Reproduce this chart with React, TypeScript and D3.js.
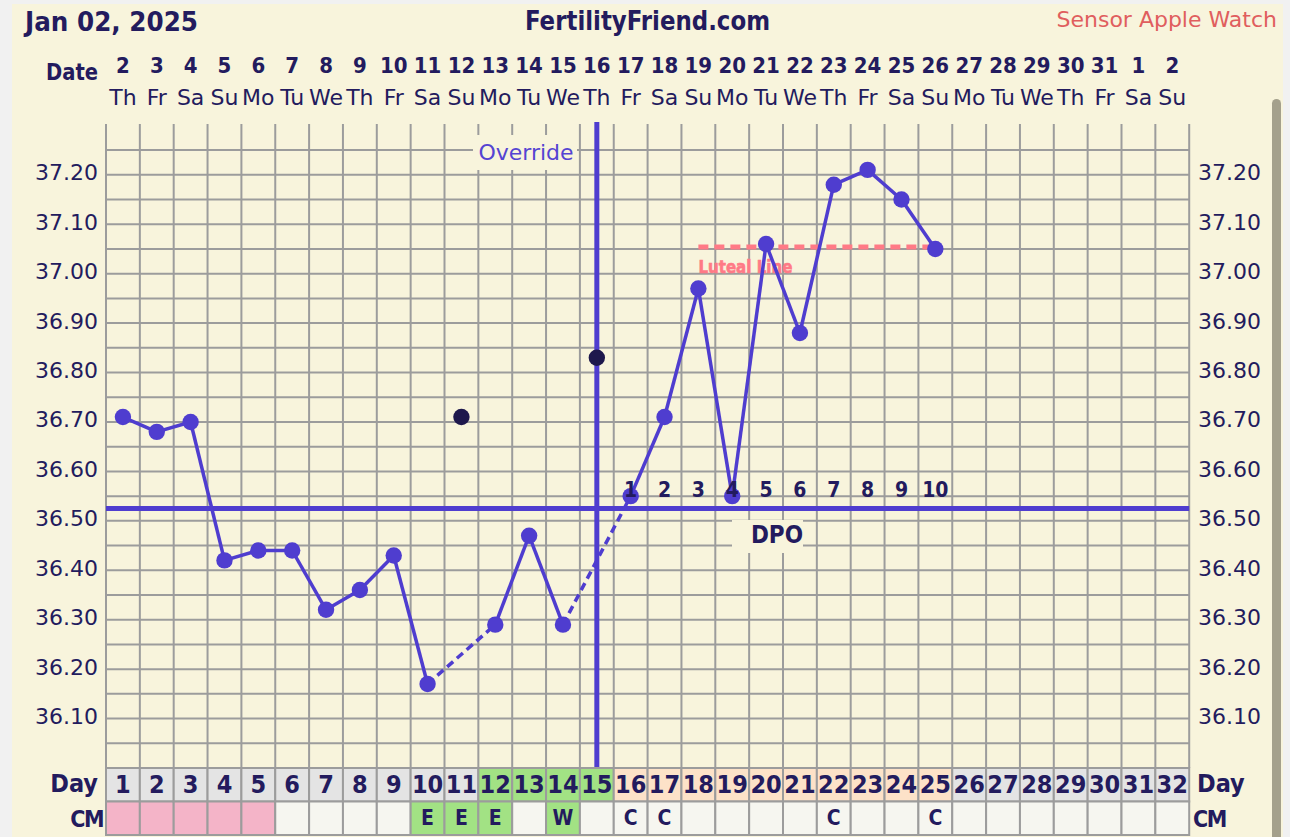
import React from 'react';
import * as d3 from 'd3';

// ---------- data ----------
const days = [1,2,3,4,5,6,7,8,9,10,11,12,13,14,15,16,17,18,19,20,21,22,23,24,25,26,27,28,29,30,31,32];
const dates = ['2','3','4','5','6','7','8','9','10','11','12','13','14','15','16','17','18','19','20','21','22','23','24','25','26','27','28','29','30','31','1','2'];
const weekdays = ['Th','Fr','Sa','Su','Mo','Tu','We','Th','Fr','Sa','Su','Mo','Tu','We','Th','Fr','Sa','Su','Mo','Tu','We','Th','Fr','Sa','Su','Mo','Tu','We','Th','Fr','Sa','Su'];
const temps = [36.71,36.68,36.70,36.42,36.44,36.44,36.32,36.36,36.43,36.17,36.71,36.29,36.47,36.29,36.83,36.55,36.71,36.97,36.55,37.06,36.88,37.18,37.21,37.15,37.05];
const discardedDays = [11, 15];
const coverline = 36.525;
const ovulationDay = 15;
const lutealValue = 37.05;
const lutealStartDay = 18;
const lutealEndDay = 25;
const dpoLabels = ['1','2','3','4','5','6','7','8','9','10'];
const dpoStartDay = 16;
const yTicks = [36.10,36.20,36.30,36.40,36.50,36.60,36.70,36.80,36.90,37.00,37.10,37.20];
const gridLevels = [36.05,36.10,36.15,36.20,36.25,36.30,36.35,36.40,36.45,36.50,36.55,36.60,36.65,36.70,36.75,36.80,36.85,36.90,36.95,37.00,37.05,37.10,37.15,37.20,37.25];
const dayPhase = ['n','n','n','n','n','n','n','n','n','n','n','f','f','f','f','l','l','l','l','l','l','l','l','l','l','n','n','n','n','n','n','n'];
const cmType = ['m','m','m','m','m','x','x','x','x','g','g','g','x','g','x','x','x','x','x','x','x','x','x','x','x','x','x','x','x','x','x','x'];
const cmText = ['','','','','','','','','','E','E','E','','W','','C','C','','','','','C','','','C','','','','','','',''];

// ---------- styles ----------
const CREAM = '#f8f4dc';
const NAVY = '#231b5e';
const LINE = '#4f3dcf';
const GRID = '#9c9c9c';
const FN = "'DejaVu Sans', Verdana, sans-serif";
const FB = "'DejaVu Sans Condensed', 'DejaVu Sans', sans-serif";
const phaseFill: Record<string, string> = { n: '#e4e4e4', f: '#a2e284', l: '#fde2c8' };
const cmFill: Record<string, string> = { m: '#f4b4c8', g: '#a2e284', x: '#f6f6f0' };

export default function App() {
  const x = d3.scaleBand<number>().domain(days).range([106, 1189.2]).padding(0);
  const bw = x.bandwidth();
  const cx = (d: number) => (x(d) as number) + bw / 2;
  const y = d3.scaleLinear().domain([36.0, 37.3]).range([768, 125.4]);

  const gridTop = 124;
  const gridBottom = y(36.0);
  const dayRowTop = gridBottom;
  const dayRowBottom = 801.5;
  const cmRowBottom = 835;

  const pts = temps.map((t, i) => ({ day: days[i], t, excluded: discardedDays.includes(days[i]) }));
  const kept = pts.filter(p => !p.excluded);
  const segs: { a: typeof kept[0]; b: typeof kept[0]; dashed: boolean }[] = [];
  for (let i = 1; i < kept.length; i++) {
    const a = kept[i - 1], b = kept[i];
    segs.push({ a, b, dashed: b.day - a.day > 1 });
  }
  const line = d3.line<{ day: number; t: number }>().x(p => cx(p.day)).y(p => y(p.t));

  return (
    <svg width={1290} height={837} style={{ position: 'absolute', left: 0, top: 0, display: 'block' }}>
      <rect x={0} y={0} width={1290} height={837} fill="#f1f1f1" />
      <rect x={12} y={4} width={1271} height={833} fill={CREAM} />
      <rect x={1272} y={99} width={9} height={745} rx={4.5} fill="#a4a08c" />

      {/* header */}
      <text x={25} y={31} fontFamily={FB} fontWeight="bold" fontSize={27} fill={NAVY} textLength={173} lengthAdjust="spacingAndGlyphs">Jan 02, 2025</text>
      <text x={525} y={30} fontFamily={FB} fontWeight="bold" fontSize={27} fill={NAVY} textLength={245} lengthAdjust="spacingAndGlyphs">FertilityFriend.com</text>
      <text x={1277} y={27} fontFamily={FN} fontSize={22} fill="#e05e5e" textAnchor="end">Sensor Apple Watch</text>

      <text x={98} y={80} fontFamily={FB} fontWeight="bold" fontSize={23} fill={NAVY} textAnchor="end" textLength={52} lengthAdjust="spacingAndGlyphs">Date</text>
      {days.map((d, i) => (
        <text key={'dt' + d} x={cx(d)} y={73} fontFamily={FB} fontWeight="bold" fontSize={22} fill={NAVY} textAnchor="middle">{dates[i]}</text>
      ))}
      {days.map((d, i) => (
        <text key={'wd' + d} x={cx(d)} y={105} fontFamily={FN} fontSize={22} fill={NAVY} textAnchor="middle">{weekdays[i]}</text>
      ))}

      {/* day & cm rows */}
      {days.map((d, i) => (
        <g key={'cell' + d}>
          <rect x={x(d)} y={dayRowTop} width={bw} height={dayRowBottom - dayRowTop} fill={phaseFill[dayPhase[i]]} stroke={GRID} strokeWidth={2} />
          <rect x={x(d)} y={dayRowBottom} width={bw} height={cmRowBottom - dayRowBottom} fill={cmFill[cmType[i]]} stroke={GRID} strokeWidth={2} />
          <text x={cx(d)} y={793} fontFamily={FB} fontWeight="bold" fontSize={25} fill={NAVY} textAnchor="middle">{String(d)}</text>
          {cmText[i] && <text x={cx(d)} y={825} fontFamily={FB} fontWeight="bold" fontSize={21} fill={NAVY} textAnchor="middle">{cmText[i]}</text>}
        </g>
      ))}
      <text x={98} y={792} fontFamily={FB} fontWeight="bold" fontSize={25} fill={NAVY} textAnchor="end">Day</text>
      <text x={1197} y={792} fontFamily={FB} fontWeight="bold" fontSize={25} fill={NAVY}>Day</text>
      <text x={103} y={827} fontFamily={FB} fontWeight="bold" fontSize={23} fill={NAVY} textAnchor="end" letterSpacing={-1.5}>CM</text>
      <text x={1193} y={827} fontFamily={FB} fontWeight="bold" fontSize={23} fill={NAVY} letterSpacing={-1.5}>CM</text>

      {/* grid */}
      {gridLevels.map(v => (
        <line key={'h' + v} x1={106} x2={1189.2} y1={y(v)} y2={y(v)} stroke={GRID} strokeWidth={2} />
      ))}
      {days.concat([33]).map((d, i) => {
        const xx = 106 + i * bw;
        return <line key={'v' + i} x1={xx} x2={xx} y1={gridTop} y2={gridBottom} stroke={GRID} strokeWidth={2} />;
      })}

      {/* y tick labels */}
      {yTicks.map(v => (
        <g key={'yt' + v}>
          <text x={98} y={y(v) - 2} dominantBaseline="central" fontFamily={FN} fontSize={22} fill={NAVY} textAnchor="end">{v.toFixed(2)}</text>
          <text x={1198} y={y(v) - 2} dominantBaseline="central" fontFamily={FN} fontSize={22} fill={NAVY}>{v.toFixed(2)}</text>
        </g>
      ))}

      {/* label boxes */}
      <rect x={473} y={135} width={104} height={35} fill={CREAM} />
      <text x={526} y={152} dominantBaseline="central" textAnchor="middle" fontFamily={FN} fontSize={22} fill="#5544d2">Override</text>
      <rect x={732} y={520} width={71} height={33} fill={CREAM} />
      <text x={777} y={543} textAnchor="middle" fontFamily={FB} fontWeight="bold" fontSize={24} fill={NAVY}>DPO</text>

      {/* coverline & ovulation */}
      <line x1={106} x2={1189.2} y1={y(coverline)} y2={y(coverline)} stroke={LINE} strokeWidth={5} />
      <line x1={cx(ovulationDay)} x2={cx(ovulationDay)} y1={122} y2={767} stroke={LINE} strokeWidth={5} />

      {/* luteal line */}
      <line x1={cx(lutealStartDay)} x2={cx(lutealEndDay)} y1={y(lutealValue) - 2} y2={y(lutealValue) - 2} stroke="#ff7a86" strokeWidth={5} strokeDasharray="10,6" />
      <text x={cx(lutealStartDay)} y={273} fontFamily={FB} fontWeight="bold" fontSize={18} fill="#ff7a86" stroke="#ff7a86" strokeWidth={0.6} textLength={94} lengthAdjust="spacingAndGlyphs">Luteal Line</text>

      {/* temperature line */}
      {segs.map((s, i) => (
        <path key={'seg' + i} d={line([s.a, s.b]) as string} fill="none" stroke={LINE} strokeWidth={3.5} strokeDasharray={s.dashed ? '8,5' : undefined} />
      ))}
      {pts.map(p => (
        <circle key={'pt' + p.day} cx={cx(p.day)} cy={y(p.t)} r={8.2} fill={p.excluded ? '#1e184c' : LINE} />
      ))}

      {/* DPO numbers */}
      {dpoLabels.map((l, i) => (
        <text key={'dpo' + l} x={cx(dpoStartDay + i)} y={497} textAnchor="middle" fontFamily={FB} fontWeight="bold" fontSize={21} fill={NAVY}>{l}</text>
      ))}
    </svg>
  );
}
